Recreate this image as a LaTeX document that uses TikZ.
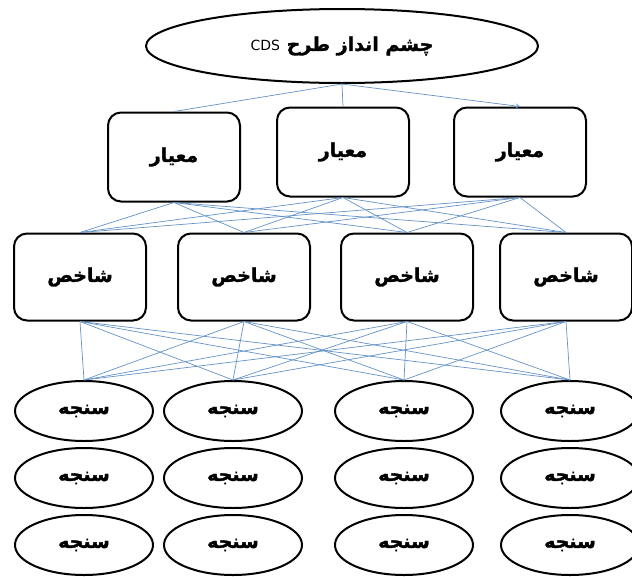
\documentclass[tikz,border=0pt]{standalone}
\usepackage{fontspec}
\usepackage{tikz}
\usetikzlibrary{arrows.meta, shapes.geometric}
\TeXXeTstate=1
\newfontfamily\farsifont[Script=Arabic, BoldFeatures={FakeBold=1.5}]{DejaVu Sans}
\definecolor{linkBlue}{RGB}{100,146,200}
\newcommand{\Fa}[1]{{\farsifont\bfseries\beginR #1\endR}}

\begin{document}
\begin{tikzpicture}[x=1pt, y=-1pt, font=\fontsize{19}{21}\selectfont,
	vision/.style={draw, ellipse, line width=2pt, minimum width=392pt, minimum height=74pt, inner sep=0pt},
	critbox/.style={draw, rounded corners=13pt, line width=2pt, minimum width=132pt, minimum height=89pt},
	indbox/.style={draw, rounded corners=13pt, line width=2pt, minimum width=132pt, minimum height=87pt},
	measure/.style={draw, ellipse, line width=2pt, minimum width=138pt, minimum height=60pt, inner sep=0pt},
	link/.style={linkBlue, line width=0.7pt}]

	\useasboundingbox (0,0) rectangle (632,576);

	% vision and criteria
	\node[vision] (V) at (342,46) {\Fa{چشم انداز طرح \beginL{\farsifont\mdseries\fontsize{14}{16}\selectfont CDS}\endL}};
	\node[critbox] (K1) at (174,157) {\Fa{معیار}};
	\node[critbox] (K2) at (343,152) {\Fa{معیار}};
	\node[critbox] (K3) at (520,152) {\Fa{معیار}};

	% indicators
	\node[indbox] (S1) at (80,277) {\Fa{شاخص}};
	\node[indbox] (S2) at (244,277) {\Fa{شاخص}};
	\node[indbox] (S3) at (407,277) {\Fa{شاخص}};
	\node[indbox] (S4) at (566,277) {\Fa{شاخص}};

	% measures
	\foreach \x/\i in {84/1, 233/2, 404/3, 570/4}
		\foreach \y/\j in {411/1, 478/2, 545/3}
			\node[measure] (M\i-\j) at (\x,\y) {\Fa{سنجه}};

	\draw[link] (V.south) -- (K1.north);
	\draw[link] (V.south) -- (K2.north);
	\draw[link, -{To[length=4pt, width=5pt]}] (V.south) -- (K3.north);

	\foreach \i in {1,2,3}
		\foreach \j in {1,...,4}
			\draw[link] (K\i.south) -- (S\j.north);

	\foreach \i in {1,...,4}
		\foreach \j in {1,...,4}
			\draw[link] (S\i.south) -- (M\j-1.north);

\end{tikzpicture}
\end{document}
